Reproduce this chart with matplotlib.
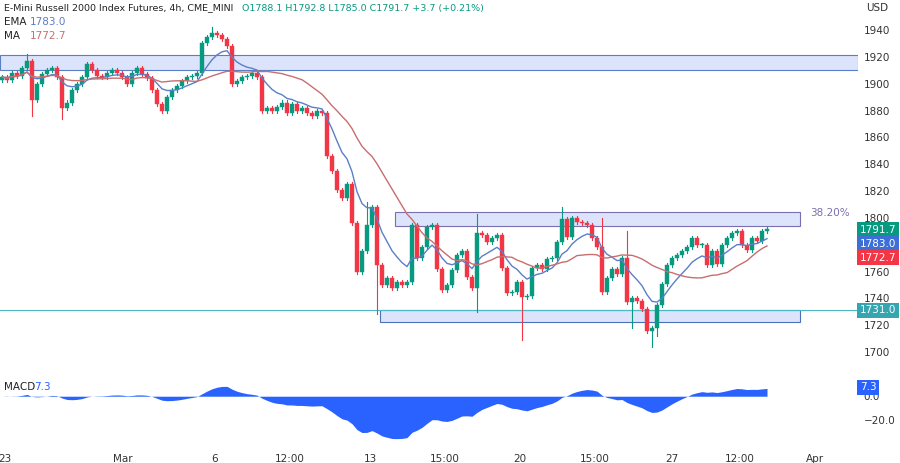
import numpy as np
import matplotlib.pyplot as plt
import matplotlib.patches as mpatches

closes = [1905, 1903, 1908, 1906, 1912, 1917, 1888, 1900, 1907, 1910, 1912, 1905, 1882, 1886, 1895, 1900,
          1905, 1915, 1910, 1906, 1905, 1908, 1910, 1908,
          1905, 1900, 1908, 1912, 1907, 1904, 1895, 1885, 1880, 1890, 1895, 1898, 1902, 1905, 1906, 1908,
          1930, 1935, 1938, 1936, 1933, 1928, 1900, 1902, 1905, 1906, 1908, 1905, 1880, 1882,
          1880, 1883, 1886, 1878, 1885, 1880, 1882, 1878, 1876, 1880, 1878,
          1846, 1835, 1821, 1815, 1825, 1796, 1760, 1775, 1795, 1808, 1765, 1750, 1755, 1748, 1752, 1750,
          1752, 1795, 1770, 1778, 1793, 1795,
          1762,
          1746, 1750, 1761, 1772, 1775, 1756, 1748, 1789, 1787, 1782, 1785, 1787, 1763, 1744, 1745, 1752,
          1741, 1742, 1763, 1765, 1762, 1769, 1770, 1782, 1799, 1786, 1800, 1797, 1796, 1795, 1785, 1778,
          1745, 1755, 1762, 1758, 1770, 1737, 1740, 1738, 1732, 1716, 1718, 1735, 1751, 1765, 1770, 1772,
          1775, 1778, 1785, 1780, 1780, 1765, 1775, 1766, 1780, 1785, 1789, 1790, 1780, 1776, 1785, 1783,
          1790, 1791.7]
first_open = 1903
# long wicks (candle index -> value)
long_highs = {5: 1922, 42: 1942, 73: 1812, 95: 1803, 112: 1808, 120: 1800, 125: 1790}
long_lows = {6: 1876, 12: 1874, 75: 1728, 95: 1730, 104: 1709, 126: 1718, 130: 1704, 131: 1712}

tick_pos = [5, 123, 215, 290, 370, 445, 520, 595, 672, 740, 815]
tick_lab = ["23", "Mar", "6", "12:00", "13", "15:00", "20", "15:00", "27", "12:00", "Apr"]
price_ticks = [1700, 1720, 1740, 1760, 1800, 1820, 1840, 1860, 1880, 1900, 1920, 1940]

GREEN, RED = "#089981", "#f23645"
closes = np.array(closes, float)
opens = np.concatenate([[first_open], closes[:-1]])
highs = np.maximum(opens, closes) + 1.5
lows = np.minimum(opens, closes) - 1.5
for k, v in long_highs.items():
    highs[k] = v
for k, v in long_lows.items():
    lows[k] = v
xs = 2 + 5 * np.arange(len(closes))


def ema(a, n):
    out = np.empty_like(a)
    out[0] = a[0]
    al = 2 / (n + 1)
    for i in range(1, len(a)):
        out[i] = al * a[i] + (1 - al) * out[i - 1]
    return out


ema9 = ema(closes, 9)
ma = np.array([closes[max(0, i - 20):i + 1].mean() for i in range(len(closes))])
macd = ema(closes, 12) - ema(closes, 26)

fig = plt.figure(figsize=(9, 4.63), dpi=100)
W, H = 900, 463
ax = fig.add_axes([0, 1 - 375 / H, 858 / W, 375 / H])
ax2 = fig.add_axes([0, 1 - 446 / H, 858 / W, 68 / H])

for a in (ax, ax2):
    a.set_xlim(0, 858)
    for s in a.spines.values():
        s.set_visible(False)
    a.yaxis.tick_right()
    a.tick_params(axis="y", length=0, labelsize=7.5, colors="#333333", pad=4)

ax.set_ylim(1682.9, 1962.4)
ax.set_yticks(price_ticks)
ax.set_xticks([])

# zones
ax.add_patch(mpatches.Rectangle((0, 1910), 858, 11.4, fc="#dbe4fb", ec="#5b7fc7", lw=0.8))
ax.add_patch(mpatches.Rectangle((395, 1794), 405, 10.4, fc="#dbe4fb", ec="#7b6fb0", lw=0.8))
ax.add_patch(mpatches.Rectangle((380, 1722.4), 420, 9, fc="#dbe4fb", ec="#4a72b8", lw=0.8))
ax.axhline(1731, color="#4fb8c0", lw=0.8)
ax.text(810, 1804, "38.20%", color="#7b6fb0", fontsize=7.5, va="center")

for x, o, h, l, c in zip(xs, opens, highs, lows, closes):
    col = GREEN if c >= o else RED
    ax.plot([x, x], [l, h], color=col, lw=0.8, zorder=3)
    ax.add_patch(mpatches.Rectangle((x - 1.7, min(o, c)), 3.4, max(abs(c - o), 0.6),
                                    fc=col, ec=col, lw=0.3, zorder=4))
ax.plot(xs, ema9, color="#5b7fc7", lw=1, zorder=5)
ax.plot(xs, ma, color="#c86e6e", lw=1, zorder=5)

for y, txt, bg in [(1791, "1791.7", GREEN), (1780.5, "1783.0", "#3d6fd6"),
                   (1770.2, "1772.7", RED), (1731, "1731.0", "#35a6b0")]:
    ax.text(860, y, txt, fontsize=7.5, color="white", va="center", ha="left", clip_on=False,
            zorder=10, bbox=dict(boxstyle="square,pad=0.25", fc=bg, ec="none"))

fig.text(866 / W, 1 - 8 / H, "USD", fontsize=7.5, color="#333333", va="center")
fig.text(4 / W, 1 - 8 / H, "E-Mini Russell 2000 Index Futures, 4h, CME_MINI", fontsize=6.8,
         color="#222222", va="center")
fig.text(242 / W, 1 - 8 / H, "O1788.1 H1792.8 L1785.0 C1791.7 +3.7 (+0.21%)", fontsize=6.8,
         color=GREEN, va="center")
fig.text(4 / W, 1 - 22 / H, "EMA", fontsize=7.5, color="#222222", va="center")
fig.text(30 / W, 1 - 22 / H, "1783.0", fontsize=7.5, color="#5b7fc7", va="center")
fig.text(4 / W, 1 - 36 / H, "MA", fontsize=7.5, color="#222222", va="center")
fig.text(30 / W, 1 - 36 / H, "1772.7", fontsize=7.5, color="#c86e6e", va="center")

# MACD panel
ax2.set_ylim(-41, 15)
ax2.fill_between(xs, 0, macd, color="#2962ff", lw=0)
ax2.set_yticks([0, -20])
ax2.set_yticklabels(["0.0", "\u221220.0"])
ax2.set_xticks(tick_pos)
ax2.set_xticklabels(tick_lab)
ax2.tick_params(axis="x", length=0, labelsize=7.5, colors="#333333", pad=6)
ax2.text(860, 7.3, "7.3", fontsize=7.5, color="white", va="center", clip_on=False,
         bbox=dict(boxstyle="square,pad=0.25", fc="#2962ff", ec="none"))
ax2.text(4, 12, "MACD", fontsize=7.5, color="#222222", va="top")
ax2.text(34, 12, "7.3", fontsize=7.5, color="#2962ff", va="top")

fig.savefig("out.png", dpi=100)
